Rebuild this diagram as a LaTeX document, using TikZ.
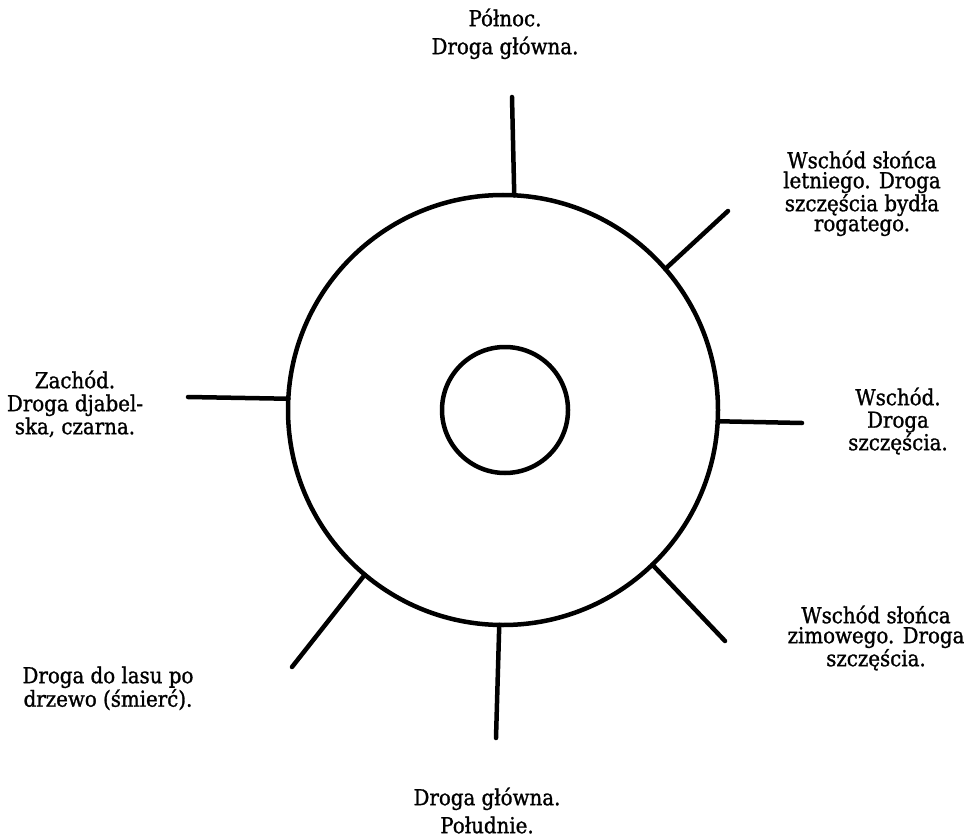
\documentclass[tikz,border=0pt]{standalone}
\usepackage{fontspec}
\setmainfont{DejaVu Serif}[FakeStretch=0.9, FakeBold=1.2]
\newcommand{\topstrut}{\rule{0pt}{20pt}}
\tikzset{
  ring/.style={circle, draw, line width=4.5pt, inner sep=0pt, outer sep=0pt},
  spoke/.style={line width=4.5pt, line cap=round},
  lbl/.style={anchor=north, inner sep=0pt, align=center},
  wide/.style={lbl, font=\fontsize{22}{28}\selectfont},
  narrow/.style={lbl, font=\fontsize{22}{#1}\selectfont},
}
\begin{document}
\begin{tikzpicture}[x=1pt,y=-1pt]
\useasboundingbox (0,0) rectangle (969,837);
\node[ring, minimum size=430pt] (outer) at (503,410) {};
\node[ring, minimum size=126pt] (inner) at (505,410) {};
\coordinate (nEnd) at (512,97);
\coordinate (neEnd) at (728,211);
\coordinate (eEnd) at (802,423);
\coordinate (seEnd) at (725,641);
\coordinate (sEnd) at (496,738);
\coordinate (swEnd) at (292,667);
\coordinate (wEnd) at (188,397);
\draw[spoke] (outer.87.9) -- (nEnd);
\draw[spoke] (outer.41.1) -- (neEnd);
\draw[spoke] (outer.-3.2) -- (eEnd);
\draw[spoke] (outer.-46.8) -- (seEnd);
\draw[spoke] (outer.-91.1) -- (sEnd);
\draw[spoke] (outer.230.6) -- (swEnd);
\draw[spoke] (outer.177.6) -- (wEnd);
\node[wide] (tN) at (505,6) {\topstrut Północ.\\Droga główna.};
\node[narrow=20] (tNE) at (862,148) {\topstrut Wschód słońca\\letniego. Droga\\szczęścia bydła\\rogatego.};
\node[narrow=22.5] (tE) at (898,385) {\topstrut Wschód.\\Droga\\szczęścia.};
\node[narrow=20] (tSE) at (876,603) {\topstrut Wschód słońca\\zimowego. Droga\\szczęścia.};
\node[wide] (tS) at (487,785) {\topstrut Droga główna.\\Południe.};
\node[narrow=22] (tSW) at (108,663) {\topstrut Droga do lasu po\\drzewo (śmierć).};
\node[narrow=23] (tW) at (75,368) {\topstrut Zachód.\\Droga djabel-\\ska, czarna.};
\end{tikzpicture}
\end{document}
